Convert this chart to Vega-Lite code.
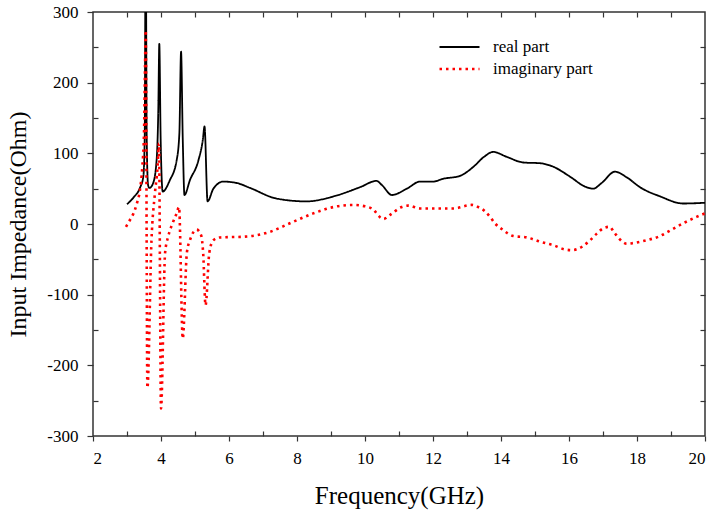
{
  "$schema": "https://vega.github.io/schema/vega-lite/v6.json",
  "width": 612,
  "height": 424,
  "autosize": {"type": "none"},
  "padding": {"left": 93, "top": 12, "right": 9, "bottom": 77},
  "background": "white",
  "config": {
    "view": {"stroke": "#333333", "strokeWidth": 1.5},
    "font": "Liberation Serif",
    "axis": {"domain": false, "tickColor": "#333333", "tickWidth": 1.2, "labelColor": "black", "titleColor": "black", "grid": false, "labelFont": "Liberation Serif", "titleFont": "Liberation Serif", "titleFontWeight": "normal"}
  },
  "data": {"values": [
    {"f":3,"v":28,"part":"real part"},{"f":3.2,"v":38,"part":"real part"},{"f":3.38,"v":51,"part":"real part"},{"f":3.48,"v":67,"part":"real part"},{"f":3.52,"v":120,"part":"real part"},{"f":3.55,"v":420,"part":"real part"},{"f":3.58,"v":120,"part":"real part"},{"f":3.62,"v":55,"part":"real part"},{"f":3.66,"v":51,"part":"real part"},{"f":3.77,"v":58,"part":"real part"},{"f":3.87,"v":90,"part":"real part"},{"f":3.92,"v":160,"part":"real part"},{"f":3.95,"v":255,"part":"real part"},{"f":3.99,"v":120,"part":"real part"},{"f":4.05,"v":46,"part":"real part"},{"f":4.26,"v":62,"part":"real part"},{"f":4.46,"v":90,"part":"real part"},{"f":4.54,"v":128,"part":"real part"},{"f":4.59,"v":244,"part":"real part"},{"f":4.64,"v":120,"part":"real part"},{"f":4.69,"v":41,"part":"real part"},{"f":4.85,"v":62,"part":"real part"},{"f":5.1,"v":90,"part":"real part"},{"f":5.23,"v":119,"part":"real part"},{"f":5.28,"v":138,"part":"real part"},{"f":5.37,"v":32,"part":"real part"},{"f":5.54,"v":50,"part":"real part"},{"f":5.83,"v":60,"part":"real part"},{"f":6.23,"v":58,"part":"real part"},{"f":6.62,"v":51,"part":"real part"},{"f":7.4,"v":36,"part":"real part"},{"f":8.28,"v":32,"part":"real part"},{"f":9.07,"v":39,"part":"real part"},{"f":9.85,"v":52,"part":"real part"},{"f":10.34,"v":61,"part":"real part"},{"f":10.5,"v":55,"part":"real part"},{"f":10.79,"v":41,"part":"real part"},{"f":11.23,"v":50,"part":"real part"},{"f":11.62,"v":60,"part":"real part"},{"f":12.0,"v":60,"part":"real part"},{"f":12.3,"v":64,"part":"real part"},{"f":12.79,"v":68,"part":"real part"},{"f":13.19,"v":81,"part":"real part"},{"f":13.5,"v":95,"part":"real part"},{"f":13.77,"v":102,"part":"real part"},{"f":14.17,"v":95,"part":"real part"},{"f":14.66,"v":87,"part":"real part"},{"f":15.15,"v":86,"part":"real part"},{"f":15.54,"v":81,"part":"real part"},{"f":16.03,"v":67,"part":"real part"},{"f":16.47,"v":53,"part":"real part"},{"f":16.71,"v":50,"part":"real part"},{"f":16.96,"v":58,"part":"real part"},{"f":17.35,"v":74,"part":"real part"},{"f":17.7,"v":66,"part":"real part"},{"f":18.09,"v":52,"part":"real part"},{"f":18.68,"v":39,"part":"real part"},{"f":19.36,"v":29,"part":"real part"},{"f":20,"v":30,"part":"real part"},
    {"f":2.97,"v":-4,"part":"imaginary part"},{"f":3.09,"v":6,"part":"imaginary part"},{"f":3.19,"v":15,"part":"imaginary part"},{"f":3.29,"v":29,"part":"imaginary part"},{"f":3.38,"v":48,"part":"imaginary part"},{"f":3.45,"v":81,"part":"imaginary part"},{"f":3.5,"v":128,"part":"imaginary part"},{"f":3.53,"v":222,"part":"imaginary part"},{"f":3.55,"v":274,"part":"imaginary part"},{"f":3.6,"v":-232,"part":"imaginary part"},{"f":3.72,"v":-23,"part":"imaginary part"},{"f":3.82,"v":43,"part":"imaginary part"},{"f":3.9,"v":81,"part":"imaginary part"},{"f":3.94,"v":114,"part":"imaginary part"},{"f":4.0,"v":-261,"part":"imaginary part"},{"f":4.12,"v":-41,"part":"imaginary part"},{"f":4.21,"v":-18,"part":"imaginary part"},{"f":4.34,"v":1,"part":"imaginary part"},{"f":4.46,"v":15,"part":"imaginary part"},{"f":4.53,"v":24,"part":"imaginary part"},{"f":4.64,"v":-162,"part":"imaginary part"},{"f":4.76,"v":-41,"part":"imaginary part"},{"f":4.85,"v":-23,"part":"imaginary part"},{"f":5.05,"v":-8,"part":"imaginary part"},{"f":5.18,"v":-16,"part":"imaginary part"},{"f":5.24,"v":-41,"part":"imaginary part"},{"f":5.31,"v":-115,"part":"imaginary part"},{"f":5.42,"v":-41,"part":"imaginary part"},{"f":5.54,"v":-23,"part":"imaginary part"},{"f":5.74,"v":-19,"part":"imaginary part"},{"f":6.42,"v":-18,"part":"imaginary part"},{"f":6.81,"v":-16,"part":"imaginary part"},{"f":7.21,"v":-11,"part":"imaginary part"},{"f":7.79,"v":1,"part":"imaginary part"},{"f":8.48,"v":15,"part":"imaginary part"},{"f":9.07,"v":24,"part":"imaginary part"},{"f":9.66,"v":27,"part":"imaginary part"},{"f":10.0,"v":25,"part":"imaginary part"},{"f":10.2,"v":22,"part":"imaginary part"},{"f":10.54,"v":7,"part":"imaginary part"},{"f":10.74,"v":13,"part":"imaginary part"},{"f":11.08,"v":24,"part":"imaginary part"},{"f":11.27,"v":26,"part":"imaginary part"},{"f":11.62,"v":22,"part":"imaginary part"},{"f":12.6,"v":22,"part":"imaginary part"},{"f":13.14,"v":27,"part":"imaginary part"},{"f":13.33,"v":24,"part":"imaginary part"},{"f":13.53,"v":18,"part":"imaginary part"},{"f":13.68,"v":10,"part":"imaginary part"},{"f":13.82,"v":1,"part":"imaginary part"},{"f":14.02,"v":-7,"part":"imaginary part"},{"f":14.36,"v":-17,"part":"imaginary part"},{"f":14.76,"v":-19,"part":"imaginary part"},{"f":15.15,"v":-25,"part":"imaginary part"},{"f":15.54,"v":-30,"part":"imaginary part"},{"f":15.88,"v":-36,"part":"imaginary part"},{"f":16.08,"v":-37,"part":"imaginary part"},{"f":16.42,"v":-31,"part":"imaginary part"},{"f":16.62,"v":-23,"part":"imaginary part"},{"f":16.81,"v":-14,"part":"imaginary part"},{"f":17.01,"v":-6,"part":"imaginary part"},{"f":17.19,"v":-4,"part":"imaginary part"},{"f":17.33,"v":-12,"part":"imaginary part"},{"f":17.5,"v":-22,"part":"imaginary part"},{"f":17.7,"v":-28,"part":"imaginary part"},{"f":17.89,"v":-27,"part":"imaginary part"},{"f":18.28,"v":-23,"part":"imaginary part"},{"f":18.63,"v":-18,"part":"imaginary part"},{"f":19.02,"v":-8,"part":"imaginary part"},{"f":19.36,"v":1,"part":"imaginary part"},{"f":19.75,"v":10,"part":"imaginary part"},{"f":20,"v":15,"part":"imaginary part"}
  ]},
  "resolve": {"axis": {"x": "independent", "y": "independent"}},
  "layer": [
    {
      "mark": {"type": "line", "clip": true, "strokeCap": "butt", "interpolate": "monotone"},
      "encoding": {
        "x": {"field": "f", "type": "quantitative", "scale": {"domain": [2, 20], "nice": false, "zero": false},
              "axis": {"orient": "bottom", "title": "Frequency(GHz)", "titleFont": "Liberation Serif", "titleFontSize": 25, "titlePadding": 17, "values": [2,4,6,8,10,12,14,16,18,20], "tickSize": 5, "labelPadding": 9, "labelFontSize": 17, "labelFont": "Liberation Serif"}},
        "y": {"field": "v", "type": "quantitative", "scale": {"domain": [-300, 300], "nice": false},
              "axis": {"orient": "left", "title": "Input Impedance(Ohm)", "titleFont": "Liberation Serif", "titleFontSize": 24, "titlePadding": 16, "values": [-300,-200,-100,0,100,200,300], "labelExpr": "'' + datum.value", "tickSize": 6, "labelPadding": 9, "labelFontSize": 17, "labelFont": "Liberation Serif"}},
        "color": {"field": "part", "type": "nominal", "scale": {"domain": ["real part", "imaginary part"], "range": ["black", "red"]},
                  "legend": {"orient": "none", "legendX": 345, "legendY": 24, "title": null, "symbolType": "stroke", "symbolSize": 1600, "symbolStrokeWidth": 2, "labelFontSize": 17, "labelFont": "Liberation Serif", "labelColor": "black", "rowPadding": 0, "clipHeight": 22, "labelOffset": 12}},
        "strokeDash": {"field": "part", "type": "nominal", "scale": {"domain": ["real part", "imaginary part"], "range": [[1, 0], [2.5, 4]]}},
        "strokeWidth": {"field": "part", "type": "nominal", "scale": {"domain": ["real part", "imaginary part"], "range": [1.8, 2.6]}, "legend": null}
      }
    },
    {
      "mark": {"type": "line", "opacity": 0},
      "encoding": {
        "x": {"field": "f", "type": "quantitative", "scale": {"domain": [2, 20], "nice": false, "zero": false},
              "axis": {"orient": "bottom", "title": null, "labels": false, "values": [3,5,7,9,11,13,15,17,19], "tickSize": -5}},
        "y": {"field": "v", "type": "quantitative", "scale": {"domain": [-300, 300], "nice": false},
              "axis": {"orient": "left", "title": null, "labels": false, "values": [-250,-150,-50,50,150,250], "tickSize": -5}}
      }
    },
    {
      "mark": {"type": "line", "opacity": 0},
      "encoding": {
        "x": {"field": "f", "type": "quantitative", "scale": {"domain": [2, 20], "nice": false, "zero": false},
              "axis": {"orient": "top", "title": null, "labels": false, "values": [3,4,5,6,7,8,9,10,11,12,13,14,15,16,17,18,19], "tickSize": -5}},
        "y": {"field": "v", "type": "quantitative", "scale": {"domain": [-300, 300], "nice": false},
              "axis": {"orient": "right", "title": null, "labels": false, "values": [-250,-200,-150,-100,-50,0,50,100,150,200,250], "tickSize": -5}}
      }
    }
  ]
}
